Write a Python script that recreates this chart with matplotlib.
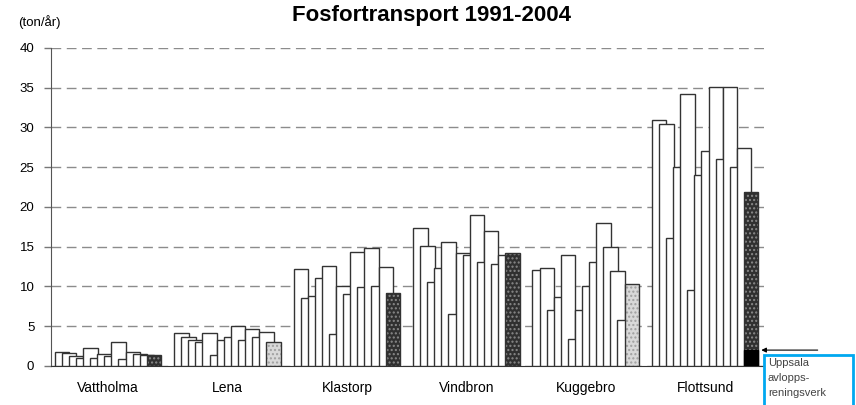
import matplotlib.pyplot as plt
import numpy as np

plt.rcParams['font.family'] = ['Liberation Sans', 'DejaVu Sans']

# ------------------------------
#    DATA
# ------------------------------

stations = ['Vattholma', 'Lena', 'Klastorp', 'Vindbron', 'Kuggebro', 'Flottsund']
years = list(range(1991, 2005))

# ton/year per station, 1991-2004
vattholma = [1.7, 1.6, 1.3, 1.0, 2.3, 1.0, 1.5, 1.2, 3.0, 0.9, 1.8, 1.5, 1.4, 1.4]
lena = [4.2, 3.6, 3.3, 3.0, 4.2, 1.4, 3.3, 3.7, 5.0, 3.3, 4.7, 3.7, 4.3, 3.0]
klastorp = [12.2, 8.5, 8.8, 11.1, 12.6, 4.0, 10.1, 9.1, 14.4, 9.9, 14.9, 10.1, 12.4, 9.2]
vindbron = [17.3, 15.1, 10.6, 12.3, 15.6, 6.5, 14.2, 14.0, 19.0, 13.1, 17.0, 12.8, 13.9, 14.2]
kuggebro = [12.1, 12.3, 7.0, 8.7, 14.0, 3.4, 7.0, 10.1, 13.1, 18.0, 15.0, 11.9, 5.8, 10.3]
flottsund = [30.9, 30.5, 16.1, 25.0, 34.2, 9.6, 24.0, 27.1, 35.1, 26.0, 35.1, 25.0, 27.4, 21.9]

# Last year drawn dark (True) or light grey (False)
last_dark = [True, False, True, True, False, True]

# Contribution from Uppsala sewage works at Flottsund 2004
uppsala_wwtp = 2.0

values = np.array([vattholma, lena, klastorp, vindbron, kuggebro, flottsund])

# ------------------------------
#    PLOT
# ------------------------------

fig = plt.figure(figsize=(8.56, 4.05), dpi=100)
ax = fig.add_axes([0.0596, 0.0963, 0.834, 0.7852])

step = 0.0593
width = 0.1215
groups = np.arange(len(stations))
edge = '#333333'

for j, year in enumerate(years):
    xpos = groups + (j - (len(years) - 1) / 2) * step
    col = values[:, j]
    if j < len(years) - 1:
        ax.bar(xpos, col, width=width, color='white', edgecolor=edge, linewidth=1.0, zorder=3 + j)
    else:
        for k in groups:
            if last_dark[k]:
                ax.bar(xpos[k], col[k], width=width, color='#303030', edgecolor='#8a8a8a',
                       hatch='....', linewidth=0, zorder=3 + j)
            else:
                ax.bar(xpos[k], col[k], width=width, color='#d9d9d9', edgecolor='#a0a0a0',
                       hatch='....', linewidth=0, zorder=3 + j)
            ax.bar(xpos[k], col[k], width=width, color='none', edgecolor=edge, linewidth=1.0, zorder=3.5 + j)
        # black base: Uppsala avloppsreningsverk
        ax.bar(xpos[-1], uppsala_wwtp, width=width, color='black', edgecolor='black', linewidth=1.0, zorder=4 + j)
        last_x = xpos[-1]

ax.set_xlim(-0.477, 5.50)
ax.set_ylim(0, 40)
ax.set_yticks(range(0, 41, 5))
ax.set_xticks(groups)
ax.set_xticklabels(stations, fontsize=10)
ax.tick_params(axis='x', length=0, pad=11)
ax.tick_params(axis='y', length=5, width=1.0, color='#777777', labelsize=9.5, pad=7)

ax.grid(axis='y', color='#8c8c8c', linestyle=(0, (7, 4)), linewidth=1.0, zorder=0)
for sp in ['top', 'right']:
    ax.spines[sp].set_visible(False)
ax.spines['left'].set_color('#555555')
ax.spines['bottom'].set_color('#333333')

fig.text(0.504, 0.962, 'Fosfortransport 1991-2004', ha='center', va='center',
         fontsize=16, fontweight='bold')
fig.text(0.021, 0.945, '(ton/år)', ha='left', va='center', fontsize=9.5)

# Annotation for the sewage works share
ax.annotate('', xy=(last_x + width / 2, uppsala_wwtp), xytext=(5.965, uppsala_wwtp),
            arrowprops=dict(arrowstyle='-|>', mutation_scale=7, color='black', lw=0.8),
            annotation_clip=False)
fig.patches.append(plt.Rectangle((0.892, -0.05), 0.105, 0.174, transform=fig.transFigure,
                                 facecolor='white', edgecolor='#00a8f0', linewidth=2))
fig.text(0.897, 0.115, 'Uppsala\navlopps-\nreningsverk', ha='left', va='top',
         fontsize=8, color='#444444', linespacing=1.6)

fig.savefig('out.png', dpi=100)
